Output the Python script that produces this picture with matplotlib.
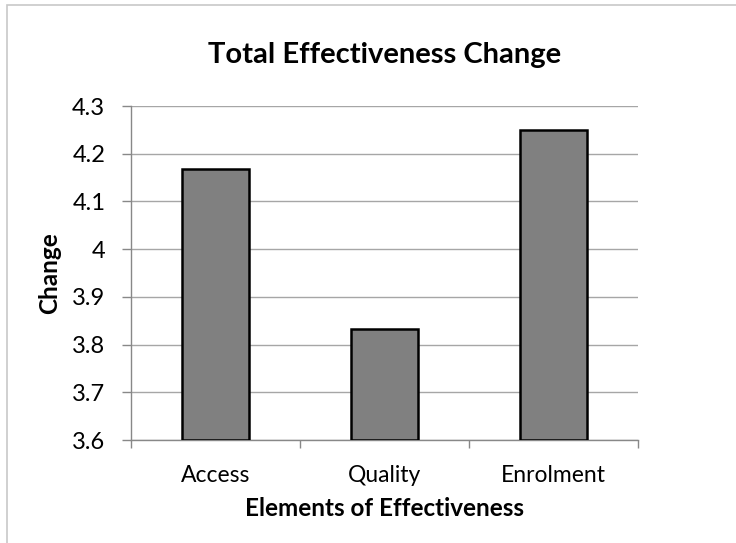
import matplotlib
matplotlib.use('Agg')
import matplotlib.pyplot as plt
from matplotlib.patches import Rectangle
from matplotlib.ticker import FuncFormatter

categories = ['Access', 'Quality', 'Enrolment']
values = [4.167, 3.833, 4.25]
y_ticks = [3.6, 3.7, 3.8, 3.9, 4.0, 4.1, 4.2, 4.3]

plt.rcParams['font.family'] = ['Lato', 'DejaVu Sans']

fig = plt.figure(figsize=(7.36, 5.43), dpi=100)
ax = fig.add_axes([131 / 736, 1 - 440 / 543, 507 / 736, 334 / 543])

# chart area border (light gray, extends past right/bottom edges)
fig.patches.append(Rectangle((7 / 736, -0.1), 1.1, 1 - 5 / 543 + 0.1,
                             transform=fig.transFigure, fill=False,
                             edgecolor='#c8c8c8', linewidth=1.2, zorder=0))

x = list(range(len(categories)))
ax.bar(x, [v - 3.6 for v in values], bottom=3.6, width=0.4,
       color='#808080', edgecolor='black', linewidth=1.8, zorder=3)

ax.set_xlim(-0.5, 2.5)
ax.set_ylim(3.6, 4.3)
ax.set_yticks(y_ticks)
ax.yaxis.set_major_formatter(FuncFormatter(lambda v, p: f'{v:g}'))
ax.yaxis.grid(True, color='#a6a6a6', linewidth=1.0, zorder=0)
ax.set_axisbelow(True)

ax.set_xticks(x)
ax.set_xticklabels(categories)
ax.set_xticks([-0.5, 0.5, 1.5, 2.5], minor=True)
ax.tick_params(axis='x', which='major', length=0, pad=18, labelsize=16.5)
ax.tick_params(axis='x', which='minor', length=6, color='#888888', width=1)
ax.tick_params(axis='y', length=6.5, color='#888888', width=1, pad=12, labelsize=17)

for side in ['top', 'right']:
    ax.spines[side].set_visible(False)
for side in ['left', 'bottom']:
    ax.spines[side].set_color('#888888')
    ax.spines[side].set_linewidth(1)

ax.set_xlabel('Elements of Effectiveness', fontsize=17.5, fontweight='bold', labelpad=8)
ax.set_ylabel('Change', fontsize=17.5, fontweight='bold', labelpad=8)
fig.text(385 / 736, 1 - 55 / 543, 'Total Effectiveness Change',
         ha='center', va='center', fontsize=21, fontweight='bold')

fig.savefig('out.png', dpi=100)
